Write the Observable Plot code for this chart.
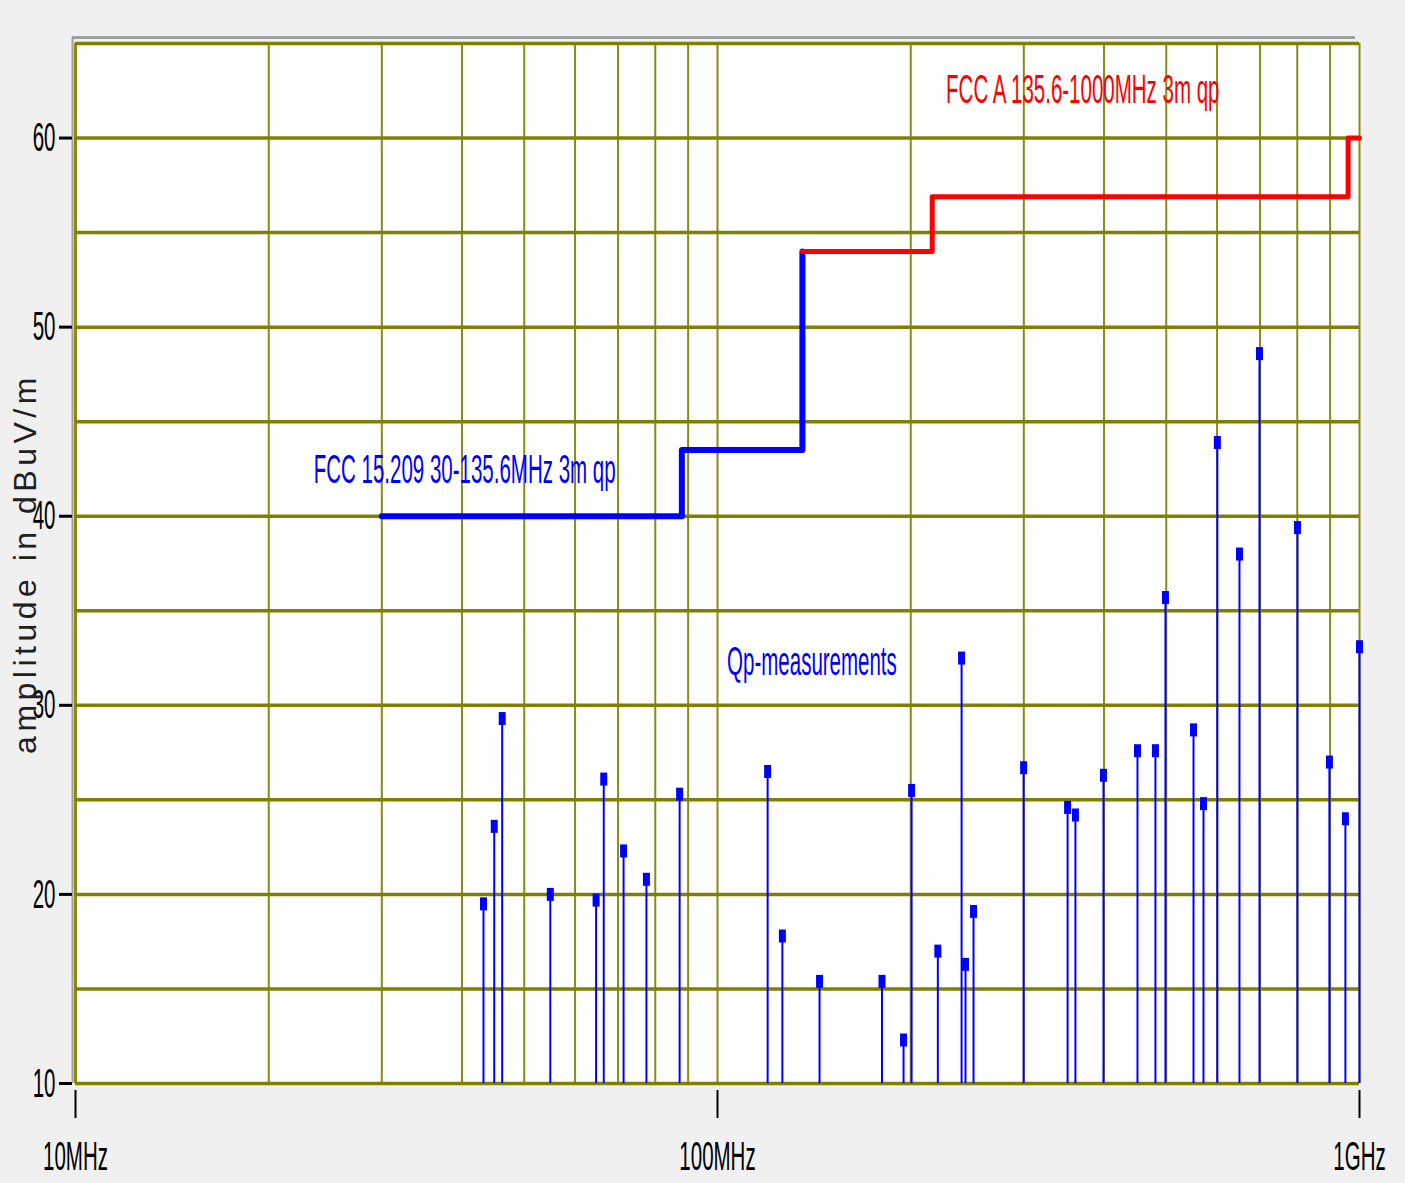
<!DOCTYPE html>
<html>
<head>
<meta charset="utf-8">
<script src="https://cdn.jsdelivr.net/npm/d3@7"></script>
<script src="https://cdn.jsdelivr.net/npm/@observablehq/plot@0.6"></script>
<style>
  html, body { margin: 0; padding: 0; background: #ffffff; }
  #chart svg { display: block; }
</style>
</head>
<body>
<div id="chart"></div>
<script>
// ---- data ----
const measFreq = [43.2, 44.9, 46.2, 54.9, 64.7, 66.5, 71.4, 77.5, 87.3, 119.7, 126.2, 144.2, 180.4, 194.9, 200.6, 220.4, 240.0, 243.4, 250.5, 299.8, 351.0, 361.0, 399.2, 451.0, 481.0, 498.6, 551.4, 571.5, 600.6, 650.2, 698.6, 800.5, 897.7, 950.7, 1000];
const measLevel = [19.5, 23.6, 29.3, 20.0, 19.7, 26.1, 22.3, 20.8, 25.3, 26.5, 17.8, 15.4, 15.4, 12.3, 25.5, 17.0, 32.5, 16.3, 19.1, 26.7, 24.6, 24.2, 26.3, 27.6, 27.6, 35.7, 28.7, 24.8, 43.9, 38.0, 48.6, 39.4, 27.0, 24.0, 33.1];

const blueLimitFreq = [30, 88, 135.6];
const blueLimitLevel = [40, 43.5, 54];
const redLimitFreq = [135.6, 216, 960, 1000];
const redLimitLevel = [54, 56.9, 60, 60];

const gridFreqs = [10, 20, 30, 40, 50, 60, 70, 80, 90, 100, 200, 300, 400, 500, 600, 700, 800, 900, 1000];
const gridLevels = [10, 15, 20, 25, 30, 35, 40, 45, 50, 55, 60, 65];
const yTicks = [10, 20, 30, 40, 50, 60];
const xTicks = [10, 100, 1000];
const xTickLabels = ["10MHz", "100MHz", "1GHz"];

const redLabel = "FCC A 135.6-1000MHz 3m qp";
const blueLabel = "FCC 15.209 30-135.6MHz 3m qp";
const measLabel = "Qp-measurements";
const yTitle = "amplitude in dBuV/m";

// ---- tables ----
const meas = measFreq.map((f, i) => ({f, v: measLevel[i]}));
const blueLimit = blueLimitFreq.map((f, i) => ({f, v: blueLimitLevel[i]}));
const redLimit = redLimitFreq.map((f, i) => ({f, v: redLimitLevel[i]}));
const xTickData = xTicks.map((f, i) => ({f, label: xTickLabels[i]}));

const markerSymbol = { draw(ctx) { ctx.rect(-3.5, -6.5, 7, 13); } };

const olive = "#808000";
const FS = 41;

const chart = Plot.plot({
  width: 1405,
  height: 1183,
  marginLeft: 75,
  marginRight: 46,
  marginTop: 43,
  marginBottom: 100,
  style: {background: "#f0f0f0", fontFamily: "'Liberation Sans', Arial, sans-serif", overflow: "visible"},
  x: {type: "log", domain: [10, 1000], axis: null},
  y: {domain: [10, 65], axis: null},
  marks: [
    Plot.frame({fill: "white", stroke: "none"}),
    // gray outer lines
    Plot.ruleY([65], {x1: 10, x2: 1000, dy: -6, insetLeft: -3, insetRight: 4, stroke: "#a0a0a0", strokeWidth: 3}),
    Plot.ruleX([10], {y1: 10, y2: 65, dx: -3, insetBottom: 6, stroke: "#a0a0a0", strokeWidth: 2}),
    // grid
    Plot.ruleX(gridFreqs, {y1: 10, y2: 65, stroke: "#8a8a14", strokeWidth: d => d === 10 ? 3 : 2}),
    Plot.ruleY(gridLevels, {x1: 10, x2: 1000, stroke: olive, strokeWidth: 3.5}),
    // axes ticks
    Plot.ruleY(yTicks, {x1: 10, x2: 10, insetLeft: -16, insetRight: 3, stroke: "black", strokeWidth: 3}),
    Plot.ruleX(xTicks, {y1: 10, y2: 10, insetTop: 7, insetBottom: -35, stroke: "black", strokeWidth: 2}),
    Plot.text(yTicks, {y: d => d, text: d => String(d), frameAnchor: "left", textAnchor: "end", dx: -20, fontSize: FS, fill: "black"}),
    Plot.text(xTickData, {x: "f", text: "label", frameAnchor: "bottom", lineAnchor: "top", dy: 57, fontSize: FS, fill: "black"}),
    Plot.text([yTitle], {text: d => d, frameAnchor: "left", textAnchor: "middle", dx: -50, rotate: -90, fontSize: 32, fill: "#202020"}),
    // limits
    Plot.line(blueLimit, {x: "f", y: "v", curve: "step-after", stroke: "#0000ff", strokeWidth: 6}),
    Plot.line(redLimit, {x: "f", y: "v", curve: "step-after", stroke: "#ff0000", strokeWidth: 5}),
    // measurements
    Plot.ruleX(meas, {x: "f", y1: 10, y2: "v", stroke: "#0000ff", strokeWidth: 2}),
    Plot.dot(meas, {x: "f", y: "v", symbol: markerSymbol, fill: "#0000ff", stroke: "none"}),
    // labels
    Plot.text([redLabel], {text: d => d, x: 227, y: 62.55, textAnchor: "start", fontSize: FS, fill: "#ff0000"}),
    Plot.text([blueLabel], {text: d => d, x: 23.5, y: 42.45, textAnchor: "start", fontSize: FS, fill: "#0000ff"}),
    Plot.text([measLabel], {text: d => d, x: 103.5, y: 32.3, textAnchor: "start", fontSize: FS, fill: "#0000ff"})
  ]
});

document.getElementById("chart").append(chart);

// condense the narrow-font texts horizontally around their anchors
const k = 0.5;
chart.querySelectorAll("text").forEach(t => {
  const s = t.textContent;
  if (s === yTitle) { t.style.letterSpacing = "4.5px"; return; }
  const b = t.getBBox();
  const anchor = getComputedStyle(t).textAnchor;
  const ax = anchor === "end" ? b.x + b.width : anchor === "middle" ? b.x + b.width / 2 : b.x;
  const prev = t.getAttribute("transform") || "";
  t.setAttribute("transform", `${prev} translate(${ax},0) scale(${k},1) translate(${-ax},0)`);
});
</script>
</body>
</html>
